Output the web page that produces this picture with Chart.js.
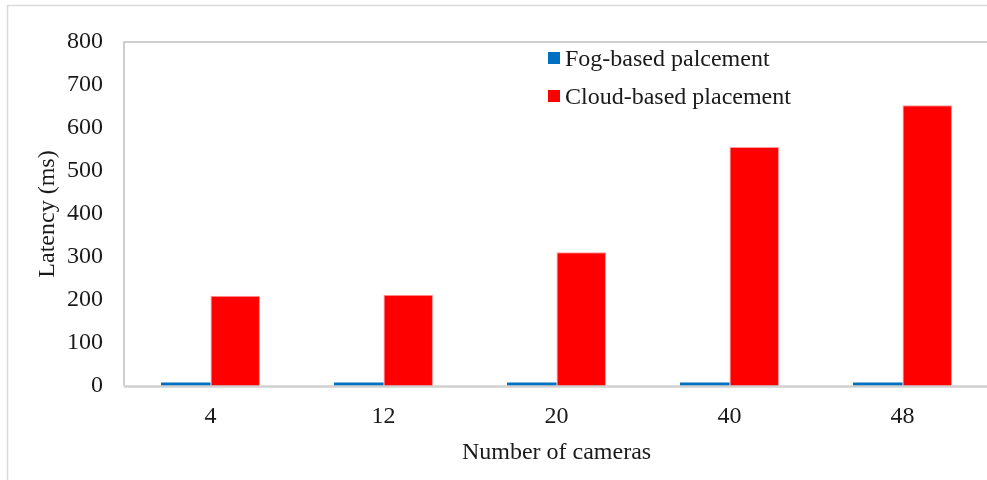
<!DOCTYPE html>
<html>
<head>
<meta charset="utf-8">
<script src="https://cdn.jsdelivr.net/npm/chart.js@4/dist/chart.umd.min.js"></script>
<style>
  html, body { margin: 0; padding: 0; background: #fff; overflow: hidden; }
  #wrap { position: relative; width: 989px; height: 480px; }
</style>
</head>
<body>
<div id="wrap"><canvas id="c"></canvas></div>
<script>
// Latency per number of cameras
const cameras = ['4', '12', '20', '40', '48'];
const fogLatency = [8, 8, 8, 8, 8];
const cloudLatency = [210, 212, 311, 556, 653];
const yTicks = [0, 100, 200, 300, 400, 500, 600, 700, 800];

const FONT = 'Liberation Serif, "Times New Roman", serif';
const TEXT = '#1a1a1a';

// Outer frame, plot border and in-plot legend
const decor = {
  id: 'decor',
  beforeDraw(chart) {
    const ctx = chart.ctx;
    ctx.save();
    ctx.strokeStyle = '#d9d9d9';
    ctx.lineWidth = 1.5;
    ctx.beginPath();
    ctx.moveTo(7.5, chart.height + 5);
    ctx.lineTo(7.5, 5.5);
    ctx.lineTo(chart.width + 5, 5.5);
    ctx.stroke();
    ctx.restore();
  },
  afterDatasetsDraw(chart) {
    const ctx = chart.ctx;
    const a = chart.chartArea;
    ctx.save();
    // top and left edges of the plot area
    ctx.strokeStyle = '#bfbfbf';
    ctx.lineWidth = 1.5;
    ctx.beginPath();
    ctx.moveTo(a.left, a.bottom);
    ctx.lineTo(a.left, a.top);
    ctx.lineTo(a.right + 2, a.top);
    ctx.stroke();
    // horizontal axis line
    ctx.strokeStyle = '#d0d0d0';
    ctx.lineWidth = 2.5;
    ctx.beginPath();
    ctx.moveTo(a.left, a.bottom + 0.5);
    ctx.lineTo(a.right + 2, a.bottom + 0.5);
    ctx.stroke();

    // legend
    ctx.font = '24px ' + FONT;
    ctx.textBaseline = 'alphabetic';
    ctx.fillStyle = TEXT;
    const lx = 548, ly = [66, 104];
    chart.data.datasets.forEach((ds, i) => {
      ctx.fillStyle = ds.backgroundColor;
      ctx.fillRect(lx, ly[i] - 14, 12, 12);
      ctx.fillStyle = TEXT;
      ctx.fillText(ds.label, lx + 17, ly[i]);
    });
    ctx.restore();
  }
};

new Chart(document.getElementById('c'), {
  type: 'bar',
  data: {
    labels: cameras,
    datasets: [
      {
        label: 'Fog-based palcement',
        data: fogLatency,
        backgroundColor: '#0070C0',
        borderWidth: 0,
        categoryPercentage: 0.572,
        barPercentage: 1.0
      },
      {
        label: 'Cloud-based placement',
        data: cloudLatency,
        backgroundColor: '#FF0000',
        borderColor: '#ff9a9a',
        borderWidth: 1,
        categoryPercentage: 0.572,
        barPercentage: 1.0
      }
    ]
  },
  options: {
    responsive: true,
    maintainAspectRatio: false,
    animation: false,
    devicePixelRatio: 1,
    layout: { padding: { left: 0, right: 0, top: 42, bottom: 0 } },
    plugins: {
      legend: { display: false },
      tooltip: { enabled: false }
    },
    scales: {
      x: {
        grid: { display: false, drawTicks: false },
        border: { display: false },
        ticks: { color: TEXT, font: { family: FONT, size: 24 }, padding: 16 },
        title: {
          display: true,
          text: 'Number of cameras',
          color: TEXT,
          font: { family: FONT, size: 24 },
          padding: { top: 0, bottom: 13 }
        },
        afterFit(scale) { scale.height = 94; }
      },
      y: {
        min: 0,
        max: 800,
        afterBuildTicks(scale) { scale.ticks = yTicks.map(v => ({ value: v })); },
        grid: { display: false, drawTicks: false },
        border: { display: false },
        ticks: { color: TEXT, font: { family: FONT, size: 24 }, padding: 21 },
        title: {
          display: true,
          text: 'Latency (ms)',
          color: TEXT,
          font: { family: FONT, size: 24 },
          padding: { top: 33, bottom: 0 }
        },
        afterFit(scale) { scale.width = 124; }
      }
    }
  },
  plugins: [decor]
});
</script>
</body>
</html>
